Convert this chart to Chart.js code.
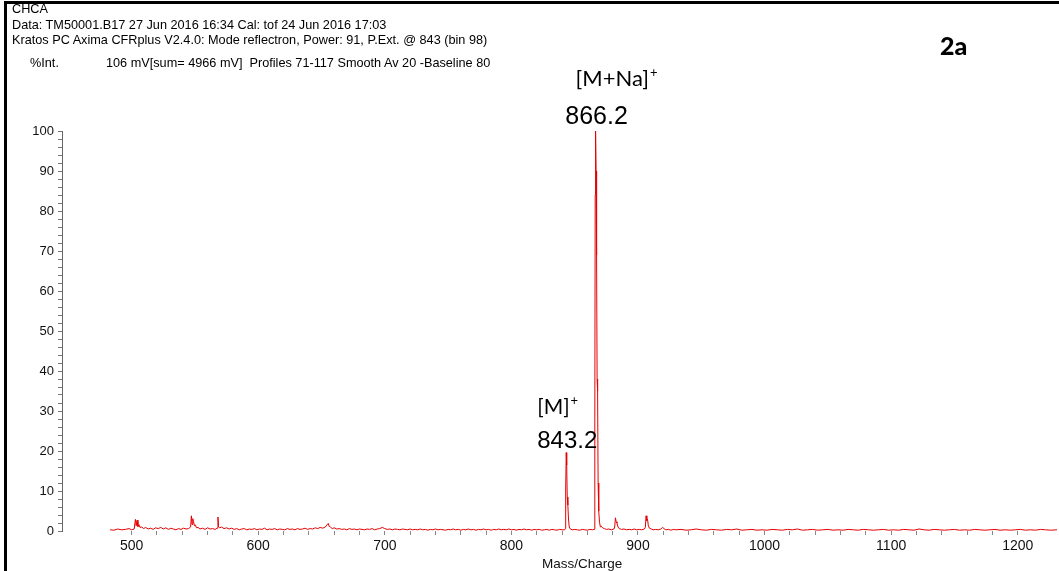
<!DOCTYPE html>
<html>
<head>
<meta charset="utf-8">
<script src="https://cdn.jsdelivr.net/npm/chart.js@4.4.1/dist/chart.umd.min.js"></script>
<style>
  body { margin: 0; background: #fff; }
  #wrap { position: relative; width: 1059px; height: 571px; overflow: hidden; }
  #frame { position: absolute; left: 4px; top: 1px; width: 1100px; height: 600px;
           border-top: 3px solid #000; border-left: 3px solid #000; }
  .hd { position: absolute; font-family: "Liberation Sans", Arial, sans-serif; font-size: 12.7px;
        line-height: 14px; color: #000; white-space: nowrap; }
  #tag { position: absolute; left: 940px; top: 30px; font-family: Lato, sans-serif; font-weight: 900;
         font-size: 25px; color: #000; }
  #xtitle { position: absolute; left: 542px; top: 556px; font-family: "Liberation Sans", Arial, sans-serif;
            font-size: 13.5px; color: #111; }
  canvas { position: absolute; left: 0; top: 0; }
</style>
</head>
<body>
<div id="wrap">
  <canvas id="myChart" width="1059" height="571"></canvas>
  <div id="frame"></div>
  <div class="hd" style="left:12px; top:2px">CHCA</div>
  <div class="hd" style="left:12px; top:18px">Data: TM50001.B17 27 Jun 2016 16:34 Cal: tof 24 Jun 2016 17:03</div>
  <div class="hd" style="left:12px; top:33px">Kratos PC Axima CFRplus V2.4.0: Mode reflectron, Power: 91, P.Ext. @ 843 (bin 98)</div>
  <div class="hd" style="left:30px; top:56px">%Int.</div>
  <div class="hd" style="left:106px; top:56px">106 mV[sum= 4966 mV]&nbsp; Profiles 71-117 Smooth Av 20 -Baseline 80</div>
  <div id="tag">2a</div>
  <div id="xtitle">Mass/Charge</div>
</div>
<script>
// spectrum, m/z values and %Int.
let mz = [
    483, 486, 489, 492, 495, 498, 500, 502, 503, 503.6, 504.3, 505, 505.8, 506.6, 508, 509.5,
    511, 513, 515, 517, 519, 521, 523, 525, 527, 529, 531, 533, 535, 537, 539, 541, 543, 545,
    546.6, 547.2, 547.7, 548.3, 548.9, 549.6, 550.4, 551.2, 552.5, 554, 556, 558, 560, 562, 564, 566,
    567.6, 568.2, 568.7, 569.5, 571, 573, 575, 577, 579, 581, 583, 585, 587, 589, 591, 593, 595, 597,
    599, 601, 603, 605, 607, 609, 611, 613, 615, 617, 619, 621, 623, 625, 627, 629, 631, 633, 635,
    637, 639, 641, 643, 645, 647, 649, 651, 653, 654.5, 655.3, 656, 657, 658.5, 660, 662, 664, 666,
    668, 670, 672, 674, 676, 678, 680, 682, 684, 686, 688, 690, 692, 694, 696, 698, 700, 702, 704,
    706, 708, 710, 712, 714, 716, 718, 720, 722, 724, 726, 728, 730, 732, 734, 736, 738, 740, 742,
    744, 746, 748, 750, 752, 754, 756, 758, 760, 762, 764, 766, 768, 770, 772, 774, 776, 778, 780,
    782, 784, 786, 788, 790, 792, 794, 796, 798, 800, 802, 804, 806, 808, 810, 812, 814, 816, 818,
    820, 822, 824, 826, 828, 830, 832, 834, 836, 838, 840, 842, 842.6, 842.9, 843.3, 843.7, 844.1,
    844.6, 845.1, 845.7, 846.5, 848, 850, 852, 854, 856, 858, 860, 862, 864, 865.4, 865.9, 866.2,
    866.5, 866.9, 867.3, 867.7, 868.1, 868.5, 869.0, 869.6, 870.3, 871, 872, 873.5, 875, 877, 879,
    881, 881.6, 882.2, 882.8, 883.4, 884.2, 885.2, 887, 889, 891, 893, 895, 897, 899, 901, 903,
    905, 905.8, 906.4, 907.0, 907.5, 908.2, 909, 910.5, 912, 914, 916, 918, 919.5, 920.5, 922, 924,
    926, 928, 930, 934, 938, 942, 946, 950, 954, 958, 962, 966, 970, 974, 978, 982, 986, 990, 994,
    998, 1002, 1006, 1010, 1014, 1018, 1022, 1026, 1030, 1034, 1038, 1042, 1046, 1050, 1054, 1058,
    1062, 1066, 1070, 1074, 1078, 1082, 1086, 1090, 1094, 1098, 1102, 1106, 1110, 1114, 1118, 1122,
    1126, 1130, 1134, 1138, 1142, 1146, 1150, 1154, 1158, 1162, 1166, 1170, 1174, 1178, 1182, 1186,
    1190, 1194, 1198, 1202, 1206, 1210, 1214, 1218, 1222, 1226, 1231
]
let intensity = [
    0.3, 0.2, 0.5, 0.3, 0.4, 0.6, 0.3, 0.5, 2.9, 1.3, 2.7, 1.1, 1.6, 0.9, 1.0, 0.6,
    0.9, 0.5, 0.7, 0.4, 0.8, 0.6, 0.9, 0.5, 0.8, 0.4, 0.7, 0.5, 0.3, 0.6, 0.4, 0.7, 0.5, 0.6,
    1.0, 3.8, 1.6, 3.1, 2.4, 1.3, 1.5, 0.8, 0.9, 0.5, 0.7, 0.4, 0.8, 0.5, 0.6, 0.4,
    0.7, 3.5, 1.1, 0.8, 1.0, 0.6, 0.8, 0.5, 0.7, 0.4, 0.6, 0.3, 0.5, 0.6, 0.3, 0.5, 0.4, 0.6,
    0.3, 0.5, 0.4, 0.7, 0.3, 0.5, 0.4, 0.6, 0.3, 0.5, 0.4, 0.3, 0.6, 0.4, 0.5, 0.3, 0.6, 0.4, 0.5,
    0.7, 0.4, 0.6, 0.5, 0.8, 0.6, 0.9, 0.7, 1.0, 1.6, 1.9, 1.2, 1.0, 0.6, 0.8, 0.5, 0.6, 0.4,
    0.5, 0.3, 0.6, 0.4, 0.5, 0.3, 0.5, 0.4, 0.3, 0.5, 0.4, 0.6, 0.3, 0.5, 0.6, 0.9, 0.6, 0.4, 0.5,
    0.3, 0.5, 0.4, 0.3, 0.5, 0.4, 0.3, 0.5, 0.3, 0.4, 0.3, 0.5, 0.3, 0.4, 0.2, 0.4, 0.3, 0.5, 0.3,
    0.4, 0.3, 0.2, 0.4, 0.3, 0.5, 0.3, 0.4, 0.2, 0.4, 0.3, 0.5, 0.3, 0.4, 0.2, 0.4, 0.3, 0.5, 0.3,
    0.4, 0.2, 0.4, 0.3, 0.5, 0.3, 0.4, 0.3, 0.5, 0.3, 0.4, 0.2, 0.4, 0.3, 0.5, 0.3, 0.4, 0.2, 0.4,
    0.3, 0.4, 0.2, 0.3, 0.4, 0.2, 0.4, 0.3, 0.2, 0.4, 0.3, 0.3, 0.6, 10.5, 19.6, 16.5, 8.5,
    6.5, 3.0, 1.0, 0.5, 0.3, 0.4, 0.3, 0.2, 0.4, 0.3, 0.2, 0.4, 0.3, 0.4, 28, 84,
    100, 90, 69, 38, 35, 12, 5, 2.2, 1.0, 1.2, 0.8, 0.6, 0.4, 0.5, 0.3,
    0.5, 1.0, 3.3, 2.3, 2.0, 1.0, 0.6, 0.4, 0.5, 0.3, 0.4, 0.3, 0.5, 0.3, 0.4, 0.3,
    0.5, 0.9, 3.8, 2.6, 3.0, 1.3, 0.7, 0.5, 0.3, 0.4, 0.3, 0.5, 0.9, 0.6, 0.3, 0.4,
    0.2, 0.4, 0.3, 0.4, 0.2, 0.3, 0.5, 0.3, 0.2, 0.4, 0.3, 0.2, 0.4, 0.3, 0.5, 0.2, 0.3, 0.4, 0.2,
    0.3, 0.2, 0.4, 0.3, 0.2, 0.4, 0.3, 0.5, 0.2, 0.3, 0.4, 0.2, 0.3, 0.4, 0.2, 0.3, 0.2,
    0.4, 0.3, 0.2, 0.4, 0.3, 0.2, 0.3, 0.4, 0.2, 0.3, 0.2, 0.4, 0.3, 0.2, 0.5, 0.3,
    0.2, 0.4, 0.3, 0.2, 0.3, 0.4, 0.2, 0.3, 0.2, 0.4, 0.3, 0.2, 0.3, 0.4, 0.2, 0.3,
    0.2, 0.3, 0.4, 0.2, 0.3, 0.2, 0.4, 0.3, 0.2, 0.3, 0.4
]

// peak annotations
let peakMz = [866.5, 843.3]
let peakText = ['866.2', '843.2']
let ionText = ['[M+Na]', '[M]']

// axis tick labels
let xTickLabels = [500, 600, 700, 800, 900, 1000, 1100, 1200]
let yTickLabels = [0, 10, 20, 30, 40, 50, 60, 70, 80, 90, 100]

let points = mz.map((m, i) => ({ x: m, y: intensity[i] }))

// label offsets (px) relative to each peak's top
let annoStyle = [
    { numSize: 25, ionSize: 22, ionDx: -20, ionDy: -38, numDy: -7 },
    { numSize: 24, ionSize: 21, ionDx: -29, ionDy: -34, numDy: -5 },
]

let peakLabels = {
    id: 'peakLabels',
    afterDraw(chart) {
        let ctx = chart.ctx
        let xs = chart.scales.x
        let ys = chart.scales.y
        ctx.save()
        ctx.fillStyle = '#000'
        peakMz.forEach((m, i) => {
            let idx = mz.indexOf(m)
            let px = xs.getPixelForValue(m)
            let py = ys.getPixelForValue(intensity[idx])
            let st = annoStyle[i]
            ctx.font = st.numSize + 'px "Liberation Sans", Arial, sans-serif'
            ctx.textAlign = 'center'
            ctx.textBaseline = 'alphabetic'
            ctx.fillText(peakText[i], px + 1, py + st.numDy)
            ctx.font = st.ionSize + 'px Lato, sans-serif'
            ctx.textAlign = 'left'
            let ix = px + st.ionDx
            let iy = py + st.numDy + st.ionDy
            ctx.fillText(ionText[i], ix, iy)
            let w = ctx.measureText(ionText[i]).width
            ctx.font = '13px Lato, sans-serif'
            ctx.fillText('+', ix + w + 1, iy - 9)
        })
        ctx.restore()
    }
}

let ctx = document.getElementById('myChart').getContext('2d')
let myChart = new Chart(ctx, {
    type: 'scatter',
    data: {
        datasets: [{
            data: points,
            showLine: true,
            borderColor: 'rgb(228, 0, 0)',
            borderWidth: 1,
            pointRadius: 0,
            tension: 0,
        }]
    },
    options: {
        responsive: false,
        animation: false,
        layout: { padding: { left: 22, top: 131, right: 2, bottom: 0 } },
        plugins: { legend: { display: false }, tooltip: { enabled: false } },
        scales: {
            x: {
                type: 'linear',
                min: 445,
                max: 1231,
                border: { display: false },
                grid: { drawOnChartArea: false, tickLength: 4, color: '#888' },
                afterBuildTicks: scale => {
                    scale.ticks = scale.ticks.filter(t => t.value >= 500 && t.value % 20 === 0)
                },
                afterFit: scale => { scale.height = 40 },
                ticks: {
                    stepSize: 20,
                    autoSkip: false,
                    maxRotation: 0,
                    padding: 3,
                    color: '#111',
                    font: { family: '"Liberation Sans", Arial, sans-serif', size: 14 },
                    callback: v => xTickLabels.includes(v) ? String(v) : ''
                }
            },
            y: {
                min: 0,
                max: 100,
                border: { display: true, color: '#666', width: 1 },
                grid: { drawOnChartArea: false, tickLength: 4, color: '#777' },
                afterFit: scale => { scale.width = 40 },
                ticks: {
                    stepSize: 2,
                    autoSkip: false,
                    padding: 4,
                    color: '#111',
                    font: { family: '"Liberation Sans", Arial, sans-serif', size: 13 },
                    callback: v => yTickLabels.includes(v) ? String(v) : ''
                }
            }
        }
    },
    plugins: [peakLabels]
});
</script>
</body>
</html>
